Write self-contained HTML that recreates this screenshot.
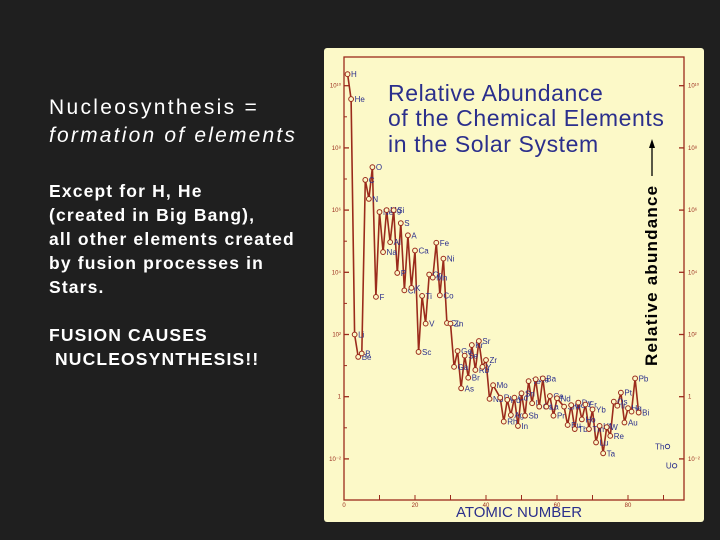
<!DOCTYPE html>
<html><head><meta charset="utf-8"><style>
html,body{margin:0;padding:0;background:#1f1f1f;}
svg{display:block;}
</style></head><body>
<svg id="slide" width="720" height="540" viewBox="0 0 720 540" xmlns="http://www.w3.org/2000/svg" font-family="Liberation Sans, sans-serif">
<rect x="0" y="0" width="720" height="540" fill="#1f1f1f"/>
<g fill="#ffffff">
<text x="49" y="114" font-size="21" letter-spacing="2.3">Nucleosynthesis =</text>
<text x="49" y="142" font-size="21" font-style="italic" letter-spacing="2.2">formation of elements</text>
<g font-size="17.5" font-weight="bold" letter-spacing="1.15">
<text x="49" y="197">Except for H, He</text>
<text x="49" y="221">(created in Big Bang),</text>
<text x="49" y="245">all other elements created</text>
<text x="49" y="269">by fusion processes in</text>
<text x="49" y="293">Stars.</text>
<text x="49" y="341">FUSION CAUSES</text>
<text x="49" y="365" xml:space="preserve"> NUCLEOSYNTHESIS!!</text>
</g>
</g>
<rect x="324" y="48" width="380" height="474" rx="3" fill="#fcf9c8"/>
<g id="chart"></g>
<text x="388" y="101" font-size="23" letter-spacing="0.6" fill="#2b2f8c">Relative Abundance</text>
<text x="388" y="126" font-size="23" letter-spacing="0.6" fill="#2b2f8c">of the Chemical Elements</text>
<text x="388" y="152" font-size="23" letter-spacing="0.6" fill="#2b2f8c">in the Solar System</text>
<text transform="translate(657,366) rotate(-90)" font-size="17" font-weight="bold" letter-spacing="1.2" fill="#000">Relative abundance</text>
<line x1="652" y1="176" x2="652" y2="146" stroke="#000" stroke-width="1.3"/>
<polygon points="652,139 649,148 655,148" fill="#000"/>
<text x="519" y="517" font-size="15" fill="#2b2f8c" text-anchor="middle">ATOMIC NUMBER</text>
</svg>
<script>
const elements = ["H","He","Li","Be","B","C","N","O","F","Ne","Na","Mg","Al","Si","P","S","Cl","A","K","Ca","Sc","Ti","V","Cr","Mn","Fe","Co","Ni","Cu","Zn","Ga","Ge","As","Se","Br","Kr","Rb","Sr","Y","Zr","Nb","Mo","Ru","Rh","Pd","Ag","Cd","In","Sn","Sb","Te","I","Xe","Cs","Ba","La","Ce","Pr","Nd","Sm","Eu","Gd","Tb","Dy","Ho","Er","Tm","Yb","Lu","Hf","Ta","W","Re","Os","Ir","Pt","Au","Hg","Tl","Pb","Bi"];
const atomicNumbers = [1,2,3,4,5,6,7,8,9,10,11,12,13,14,15,16,17,18,19,20,21,22,23,24,25,26,27,28,29,30,31,32,33,34,35,36,37,38,39,40,41,42,44,45,46,47,48,49,50,51,52,53,54,55,56,57,58,59,60,62,63,64,65,66,67,68,69,70,71,72,73,74,75,76,77,78,79,80,81,82,83];
const logAbundance = [10.37,9.57,2.0,1.28,1.39,6.97,6.36,7.38,3.21,5.94,4.65,6.0,4.97,6.0,3.98,5.58,3.42,5.19,3.5,4.7,1.44,3.24,2.35,3.93,3.83,4.95,3.26,4.44,2.37,2.35,0.96,1.47,0.27,1.32,0.61,1.66,0.86,1.79,0.96,1.18,-0.07,0.37,-0.03,-0.8,-0.1,-0.59,-0.03,-0.94,0.11,-0.61,0.5,-0.21,0.56,-0.32,0.59,-0.32,0.02,-0.61,-0.05,-0.32,-0.91,-0.27,-1.04,-0.19,-0.73,-0.25,-1.04,-0.41,-1.47,-0.94,-1.82,-0.98,-1.26,-0.16,-0.29,0.13,-0.83,-0.37,-0.48,0.59,-0.51];
const isolatedElements = ["Th","U"];
const isolatedNumbers = [90,92];
const isolatedLog = [-1.6,-2.22];
const xTicks = [0,10,20,30,40,50,60,70,80,90];
const xTickLabels = ["0","","20","","40","","60","","80",""];
const yTicks = [10,8,6,4,2,0,-2];
const yTickLabels = ["10¹⁰","10⁸","10⁶","10⁴","10²","1","10⁻²"];

var NS="http://www.w3.org/2000/svg";
var X0=344, XS=3.55, Y0=396.7, YS=31.1;
function xs(z){return X0+XS*z;}
function ys(l){return Y0-YS*l;}
var g=document.getElementById('chart');
function mk(tag,attrs,parent){var e=document.createElementNS(NS,tag);for(var k in attrs)e.setAttribute(k,attrs[k]);(parent||g).appendChild(e);return e;}
var RED="#9b2b1c", BLUE="#2b2f8c";
var frame=mk('rect',{x:344,y:57,width:340,height:443,fill:'none',stroke:RED,'stroke-width':1.3});


xTicks.forEach(function(t,i){
  var tk=mk('line',{x1:xs(t),x2:xs(t),y1:500,y2:495,stroke:RED,'stroke-width':1});
  
  
  if(xTickLabels[i]){
    var tl=mk('text',{x:xs(t),y:507,'font-size':6,fill:RED,'text-anchor':'middle'});
    tl.textContent=xTickLabels[i];
    
    
  }
});
yTicks.forEach(function(t,i){
  var a=mk('line',{x1:344,x2:349,y1:ys(t),y2:ys(t),stroke:RED,'stroke-width':1.3});
  
  
  var b=mk('line',{x1:679,x2:684,y1:ys(t),y2:ys(t),stroke:RED,'stroke-width':1.3});
  
  
  var l1=mk('text',{x:341,y:ys(t)+2,'font-size':6,fill:RED,'text-anchor':'end'});
  l1.textContent=yTickLabels[i];
  
  
  var l2=mk('text',{x:688,y:ys(t)+2,'font-size':6,fill:RED});
  l2.textContent=yTickLabels[i];
  
  
  if(i<yTicks.length-1){
    var m=ys(t-1);
    var c=mk('line',{x1:344,x2:347,y1:m,y2:m,stroke:RED});
    
    
  }
});
var pts=atomicNumbers.map(function(z,i){return xs(z).toFixed(1)+','+ys(logAbundance[i]).toFixed(1);}).join(' ');
var line=mk('polyline',{points:pts,fill:'none',stroke:RED,'stroke-width':1.6,'stroke-linejoin':'round'});


atomicNumbers.forEach(function(z,i){
  var c=mk('circle',{cx:xs(z),cy:ys(logAbundance[i]),r:2.4,fill:'#fcf9c8',stroke:RED,'stroke-width':1});
  
  
  var t=mk('text',{x:xs(z)+3.5,y:ys(logAbundance[i])+3,'font-size':8,fill:BLUE});
  t.textContent=elements[i];
  
  
});
isolatedNumbers.forEach(function(z,i){
  var c=mk('circle',{cx:xs(z)+4,cy:ys(isolatedLog[i]),r:2.2,fill:'#fcf9c8',stroke:BLUE,'stroke-width':0.9});
  
  
  var t=mk('text',{x:xs(z)+1,y:ys(isolatedLog[i])+3,'font-size':8,fill:BLUE,'text-anchor':'end'});
  t.textContent=isolatedElements[i];
  
  
});
</script>
</body></html>
